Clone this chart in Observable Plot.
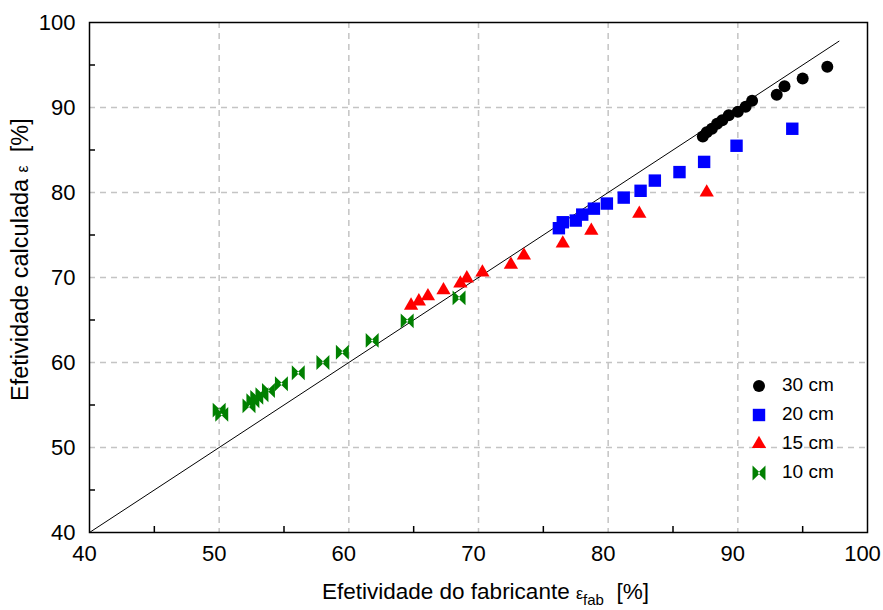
<!DOCTYPE html>
<html>
<head>
<meta charset="utf-8">
<script src="https://cdn.jsdelivr.net/npm/d3@7"></script>
<script src="https://cdn.jsdelivr.net/npm/@observablehq/plot@0.6"></script>
<style>
  html, body { margin: 0; padding: 0; background: #fff; }
  svg { display: block; }
</style>
</head>
<body>
<div id="chart"></div>
<script>
// ---- data ----
const series = ["30 cm", "20 cm", "15 cm", "10 cm"];
const colors = ["#000000", "#0000ff", "#ff0000", "#008000"];

const x30 = [96.9, 95.0, 93.6, 93.0, 91.1, 90.6, 90.0, 89.3, 88.8, 88.4, 88.0, 87.6, 87.3];
const y30 = [94.8, 93.4, 92.5, 91.5, 90.8, 90.1, 89.5, 89.1, 88.5, 88.1, 87.5, 87.1, 86.6];

const x20 = [94.2, 89.9, 87.4, 85.5, 83.6, 82.5, 81.2, 79.9, 78.9, 78.0, 77.5, 76.5, 76.2];
const y20 = [87.5, 85.5, 83.6, 82.4, 81.4, 80.2, 79.4, 78.7, 78.1, 77.4, 76.7, 76.5, 75.8];

const x15 = [87.6, 82.4, 78.7, 76.5, 73.5, 72.5, 70.3, 69.1, 68.6, 67.3, 66.1, 65.4, 64.8];
const y15 = [80.0, 77.5, 75.5, 74.0, 72.6, 71.5, 70.6, 69.9, 69.3, 68.5, 67.8, 67.2, 66.7];

const x10 = [50.0, 50.2, 52.3, 52.6, 52.9, 53.3, 53.8, 54.8, 56.1, 58.0, 59.5, 61.8, 64.5, 68.5];
const y10 = [54.4, 53.9, 54.9, 55.5, 55.9, 56.2, 56.7, 57.5, 58.8, 60.0, 61.2, 62.6, 64.9, 67.6];

const lineX = [40, 97.8];
const lineY = [40, 97.8];

const axisTicks = [40, 50, 60, 70, 80, 90, 100];
const gridTicks = [50, 60, 70, 80, 90];
const minorTicks = [45, 55, 65, 75, 85, 95];

// ---- build ----
const bowtie = {
  draw(context, size) {
    const sx = Math.sqrt(size) / 2;
    const sy = sx * 1.15;
    const w = sx * 0.2;
    context.moveTo(-sx, -sy);
    context.lineTo(w, 0);
    context.lineTo(-sx, sy);
    context.closePath();
    context.moveTo(sx, -sy);
    context.lineTo(-w, 0);
    context.lineTo(sx, sy);
    context.closePath();
  }
};
const symbols = [d3.symbolCircle, d3.symbolSquare, d3.symbolTriangle, bowtie];
const radii = [6, 7, 5.3, 7.3];

const pts = (xs, ys) => xs.map((x, i) => ({x, y: ys[i]}));
const sets = [pts(x30, y30), pts(x20, y20), pts(x15, y15), pts(x10, y10)];
const diag = pts(lineX, lineY);

const W = 883, H = 610;
const mL = 89, mR = 16, mT = 22, mB = 78;
const plotW = W - mL - mR, plotH = H - mT - mB;
const FONT = "'Liberation Sans', Arial, sans-serif";

const chart = Plot.plot({
  width: W,
  height: H,
  marginLeft: mL,
  marginRight: mR,
  marginTop: mT,
  marginBottom: mB,
  style: {fontFamily: FONT, background: "#fff", color: "#000", overflow: "visible"},
  x: {domain: [40, 100], label: null},
  y: {domain: [40, 100], label: null},
  marks: [
    Plot.ruleX(gridTicks, {stroke: "#c4c4c4", strokeWidth: 1.5, strokeDasharray: "6,5"}),
    Plot.ruleY(gridTicks, {stroke: "#c4c4c4", strokeWidth: 1.5, strokeDasharray: "6,5"}),
    Plot.tickX(minorTicks, {x: d => d, stroke: "#000", strokeWidth: 1.5, insetTop: plotH - 6}),
    Plot.tickY(minorTicks, {y: d => d, stroke: "#000", strokeWidth: 1.5, insetRight: plotW - 6}),
    Plot.axisX(axisTicks, {tickSize: 0, tickPadding: 13, fontSize: 22, dx: -5, label: null}),
    Plot.axisY(axisTicks, {tickSize: 0, tickPadding: 14, fontSize: 22, label: null}),
    Plot.line(diag, {x: "x", y: "y", stroke: "#000", strokeWidth: 1}),
    ...sets.map((data, i) => Plot.dot(data, {
      x: "x", y: "y", r: radii[i], symbol: symbols[i], fill: colors[i], stroke: "none"
    })),
    Plot.frame({stroke: "#000", strokeWidth: 1.5})
  ]
});

const svg = d3.select(chart);

// Legend
const legX = 759, legTextX = 782, legY0 = 384, legStep = 29;
series.forEach((s, i) => {
  const size = Math.PI * radii[i] * radii[i];
  svg.append("path")
    .attr("d", d3.symbol(symbols[i], size)())
    .attr("transform", `translate(${legX},${legY0 + i * legStep + 2})`)
    .attr("fill", colors[i]);
  svg.append("text")
    .attr("x", legTextX)
    .attr("y", legY0 + i * legStep)
    .attr("dy", "0.35em")
    .attr("text-anchor", "start")
    .attr("font-family", FONT)
    .attr("font-size", 19)
    .attr("fill", "#000")
    .text(s);
});

// Axis titles
const xt = svg.append("text")
  .attr("x", 322)
  .attr("y", 599)
  .attr("text-anchor", "start")
  .attr("font-family", FONT)
  .attr("font-size", 22.5)
  .attr("fill", "#000");
xt.append("tspan").text("Efetividade do fabricante ");
xt.append("tspan").attr("font-size", 16).text("ε");
xt.append("tspan").attr("font-size", 15).attr("dy", 6).text("fab");
xt.append("tspan").attr("dy", -6).text("  [%]");

const yt = svg.append("text")
  .attr("transform", `translate(28,401) rotate(-90)`)
  .attr("text-anchor", "start")
  .attr("font-family", FONT)
  .attr("font-size", 23.5)
  .attr("fill", "#000");
yt.append("tspan").text("Efetividade calculada ");
yt.append("tspan").attr("font-size", 16).text("ε");
yt.append("tspan").text("  [%]");

document.getElementById("chart").appendChild(chart);
</script>
</body>
</html>
